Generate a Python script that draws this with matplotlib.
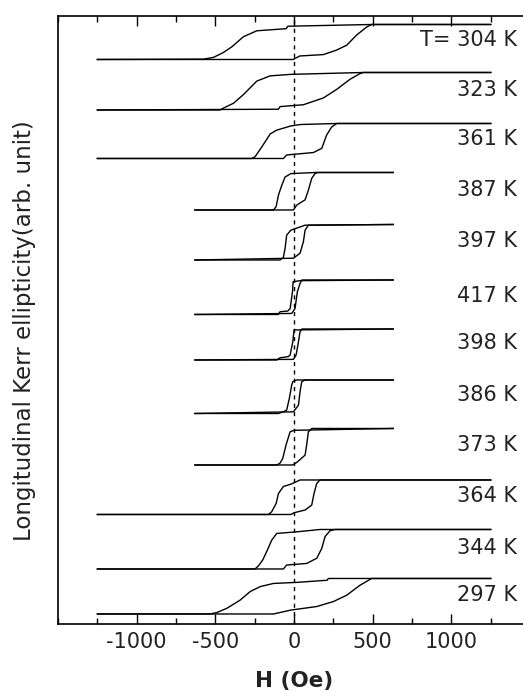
import matplotlib
matplotlib.use("Agg")
import matplotlib.pyplot as plt
from matplotlib.ticker import MultipleLocator

# temperatures, top curve first
temps = [304, 323, 361, 387, 397, 417, 398, 386, 373, 364, 344, 297]
labels = ["T= 304 K", "323 K", "361 K", "387 K", "397 K", "417 K",
          "398 K", "386 K", "373 K", "364 K", "344 K", "297 K"]

# vertical placement of each loop (arb. unit): low and high level
bottoms = [11.29, 10.28, 9.31, 8.28, 7.28, 6.19, 5.28, 4.21, 3.18, 2.19, 1.10, 0.20]
tops = [11.99, 11.03, 10.01, 9.03, 7.99, 6.88, 5.90, 4.88, 3.91, 2.88, 1.89, 0.91]

# descending-field branch (H in Oe, normalised signal 0..1)
upper_h = [
    [1250, 493, -40, -50, -237, -322, -396, -449, -512, -576, -1250],
    [1250, 440, -20, -152, -237, -322, -385, -449, -470, -1250],
    [1250, 270, 38, -20, -110, -152, -205, -248, -269, -1250],
    [630, 140, -20, -57, -78, -99, -114, -131, -630],
    [630, 70, -20, -47, -57, -68, -90, -630],
    [630, 38, -6, -10, -25, -40, -89, -100, -630],
    [630, 28, 0, -8, -25, -36, -89, -110, -630],
    [630, 15, -8, -15, -30, -47, -68, -100, -630],
    [630, 0, -25, -51, -72, -89, -110, -630],
    [1250, 38, 0, -20, -68, -99, -114, -142, -163, -1250],
    [1250, 165, 17, -47, -110, -142, -174, -199, -226, -248, -1250],
    [1250, 218, 210, 17, -131, -216, -279, -343, -427, -491, -533, -1250],
]
upper_m = [
    [1, 1, 0.95, 0.88, 0.82, 0.65, 0.36, 0.20, 0.06, 0.01, 0],
    [1, 1, 0.95, 0.91, 0.77, 0.41, 0.18, 0.05, 0, 0],
    [1, 1, 0.97, 0.93, 0.81, 0.70, 0.33, 0.05, 0, 0],
    [1, 1, 0.97, 0.88, 0.66, 0.40, 0.09, 0, 0],
    [1, 0.98, 0.84, 0.70, 0.33, 0.07, 0, 0],
    [1, 0.98, 0.95, 0.66, 0.17, 0.10, 0.08, 0, 0],
    [1, 0.97, 0.97, 0.59, 0.16, 0.11, 0.07, 0, 0],
    [1, 1, 0.95, 0.85, 0.45, 0.10, 0.05, 0, 0],
    [1, 0.95, 0.91, 0.55, 0.18, 0.05, 0, 0],
    [1, 1, 0.92, 0.88, 0.81, 0.61, 0.32, 0.08, 0, 0],
    [1, 1, 0.94, 0.92, 0.90, 0.73, 0.44, 0.23, 0.08, 0, 0],
    [1, 1, 0.95, 0.89, 0.86, 0.77, 0.63, 0.39, 0.16, 0.04, 0, 0],
]

# ascending-field branch
lower_h = [
    [-1250, -6, 36, 186, 271, 335, 398, 462, 493, 1250],
    [-1250, -100, -89, 59, 186, 271, 356, 419, 440, 1250],
    [-1250, -68, -47, 123, 176, 207, 239, 271, 1250],
    [-630, -4, 17, 70, 91, 112, 133, 150, 630],
    [-630, -4, 38, 59, 70, 91, 630],
    [-630, -15, 6, 21, 38, 50, 630],
    [-630, -4, 13, 28, 38, 50, 630],
    [-630, -4, 28, 38, 49, 70, 630],
    [-630, -10, 17, 70, 80, 91, 112, 630],
    [-1250, -20, 0, 70, 112, 127, 144, 165, 1250],
    [-1250, -68, -47, 80, 144, 176, 197, 229, 260, 1250],
    [-1250, -131, -20, 144, 250, 335, 419, 493, 1250],
]
lower_m = [
    [0, 0, 0.10, 0.14, 0.27, 0.41, 0.70, 0.93, 1, 1],
    [0, 0.02, 0.09, 0.14, 0.32, 0.55, 0.82, 0.97, 1, 1],
    [0, 0, 0.10, 0.17, 0.29, 0.67, 0.90, 1, 1],
    [0, 0, 0.13, 0.27, 0.53, 0.84, 0.97, 1, 1],
    [0, 0.05, 0.19, 0.51, 0.84, 0.98, 1],
    [0, 0.03, 0.17, 0.66, 0.90, 1, 1],
    [0, 0.02, 0.16, 0.59, 0.91, 1, 1],
    [0, 0.05, 0.25, 0.65, 0.95, 1, 1],
    [0, 0, 0.07, 0.27, 0.55, 0.91, 1, 1],
    [0, 0, 0.05, 0.13, 0.27, 0.61, 0.90, 1, 1],
    [0, 0, 0.10, 0.14, 0.27, 0.52, 0.82, 0.97, 1, 1],
    [0, 0, 0.11, 0.21, 0.35, 0.53, 0.81, 1, 1],
]

plt.rcParams['font.family'] = ['DejaVu Sans']
plt.rcParams['axes.unicode_minus'] = False

fig = plt.figure(figsize=(5.23, 6.92), dpi=100)
ax = fig.add_axes([0.111, 0.0983, 0.889, 0.8786])

for i in range(len(temps)):
    lo, hi = bottoms[i], tops[i]
    yu = [lo + m * (hi - lo) for m in upper_m[i]]
    yl = [lo + m * (hi - lo) for m in lower_m[i]]
    ax.plot(upper_h[i], yu, color='black', lw=1.0)
    ax.plot(lower_h[i], yl, color='black', lw=1.0)
    ax.text(1415, (lo + hi) / 2 + 0.03, labels[i], ha='right', va='center',
            fontsize=15, color='#222222')

# dashed line at zero field
ax.axvline(0, color='black', lw=1.0, ls=(0, (3, 3)))

ax.set_xlim(-1500, 1455)
ax.set_ylim(0, 12.16)
ax.spines['right'].set_visible(False)
for s in ['left', 'top', 'bottom']:
    ax.spines[s].set_linewidth(1.2)

ax.set_xticks([-1000, -500, 0, 500, 1000])
ax.xaxis.set_minor_locator(MultipleLocator(250))
ax.tick_params(axis='x', which='both', direction='in', top=True, labelsize=15,
               pad=6, labelcolor='#222222')
ax.tick_params(axis='x', which='major', length=7, width=1)
ax.tick_params(axis='x', which='minor', length=4, width=1)
ax.set_yticks([])

fig.text(25 / 523, 1 - 331 / 692, 'Longitudinal Kerr ellipticity(arb. unit)',
         rotation=90, ha='center', va='center', fontsize=16.5, color='#222222')
fig.text(294 / 523, 1 - 681 / 692, 'H (Oe)', ha='center', va='center',
         fontsize=15.5, fontweight='bold', color='#222222')

fig.savefig('out.png', dpi=100)
